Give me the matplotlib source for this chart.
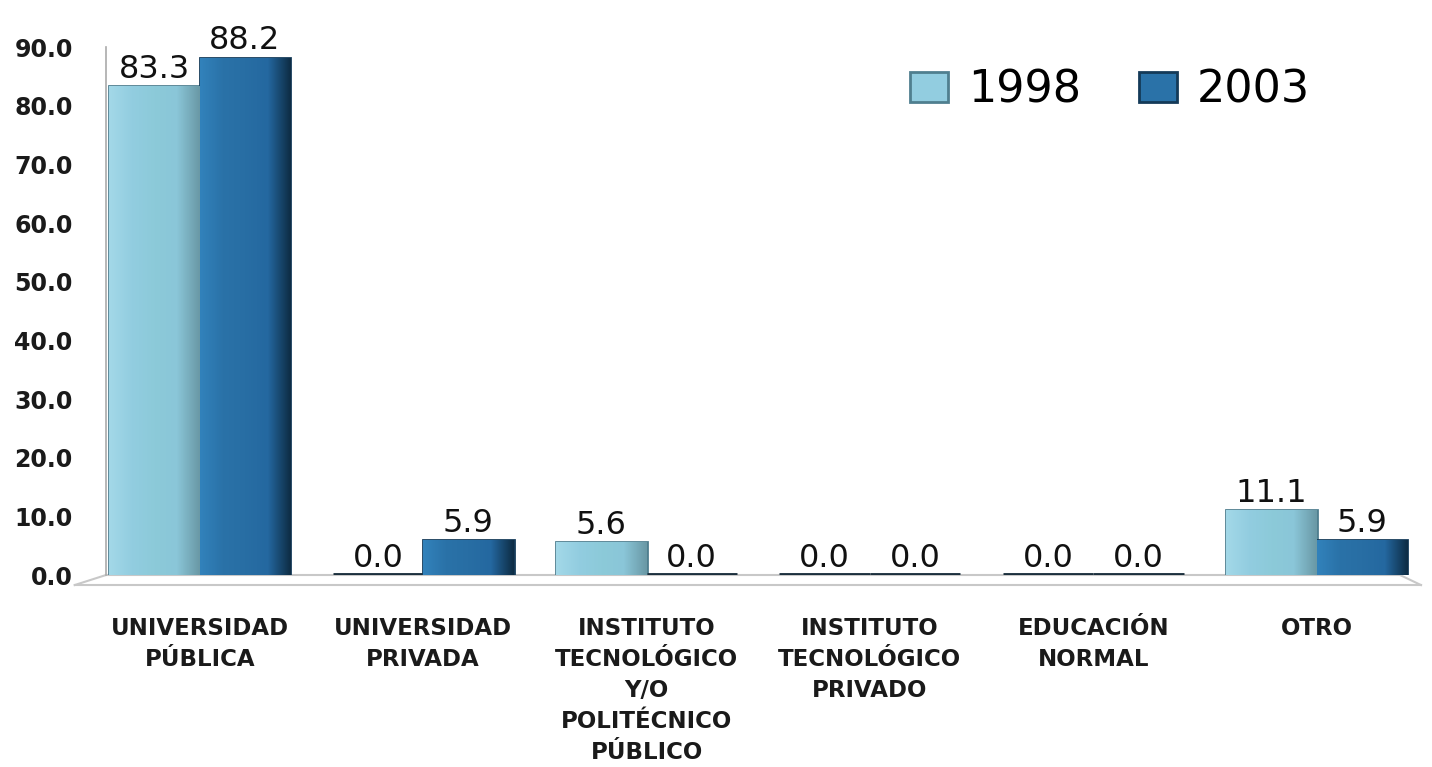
import numpy as np
import matplotlib.pyplot as plt
from matplotlib.lines import Line2D
from matplotlib.colors import LinearSegmentedColormap

# Data
categories = ["UNIVERSIDAD\nPÚBLICA", "UNIVERSIDAD\nPRIVADA",
              "INSTITUTO\nTECNOLÓGICO\nY/O\nPOLITÉCNICO\nPÚBLICO",
              "INSTITUTO\nTECNOLÓGICO\nPRIVADO", "EDUCACIÓN\nNORMAL", "OTRO"]
series_names = ["1998", "2003"]
values_1998 = [83.3, 0.0, 5.6, 0.0, 0.0, 11.1]
values_2003 = [88.2, 5.9, 0.0, 0.0, 0.0, 5.9]

light = "#92cde0"
dark = "#2a72a8"

fig = plt.figure(figsize=(14.32, 7.67), dpi=100)
ax = fig.add_axes([0.074, 0.2503, 0.911, 0.6884])

x = np.arange(len(categories))
w = 0.405
b1 = ax.bar(x - w / 2, values_1998, w, color=light, edgecolor="#4f7f8f", linewidth=2, label=series_names[0])
b2 = ax.bar(x + w / 2, values_2003, w, color=dark, edgecolor="#143a58", linewidth=2, label=series_names[1])

# shading on the bars (lighter left, darker right edge)
cm_light = LinearSegmentedColormap.from_list("l", ["#a3d8e8", "#92cde0", "#8ccad9", "#8ac6d8", "#6a99a6"])
cm_dark = LinearSegmentedColormap.from_list("d", ["#3282bb", "#2a72a8", "#286ea4", "#2468a0", "#0e2d45"])
grad = np.linspace(0, 1, 100).reshape(1, -1)
for bars, cm in [(b1, cm_light), (b2, cm_dark)]:
    for bar in bars:
        h = bar.get_height()
        if h <= 0:
            # empty categories show up as a flat dark slab
            bar.set_edgecolor("#1b2f3d")
            bar.set_linewidth(3.5)
            continue
        x0 = bar.get_x()
        im = ax.imshow(grad, cmap=cm, aspect="auto", extent=[x0, x0 + bar.get_width(), 0, h],
                       zorder=bar.get_zorder() + 0.1)
        im.set_clip_path(bar)

# value labels
for bars, vals in [(b1, values_1998), (b2, values_2003)]:
    for bar, v in zip(bars, vals):
        ax.annotate(f"{v:.1f}", (bar.get_x() + bar.get_width() / 2, v), xytext=(0, 1),
                    textcoords="offset points", ha="center", va="bottom", fontsize=23, color="#111111")

ax.set_xlim(-0.42, 5.42)
ax.set_ylim(0, 90)
ax.set_yticks(np.arange(0, 91, 10))
ax.set_yticklabels([f"{t:.1f}" for t in np.arange(0, 91, 10)], fontsize=17, fontweight="bold", color="#1a1a1a")
ax.set_xticks(x)
ax.set_xticklabels(categories, fontsize=16.5, fontweight="bold", color="#1a1a1a", linespacing=1.45)
ax.tick_params(axis="both", length=0)
ax.tick_params(axis="y", pad=24)
ax.tick_params(axis="x", pad=30)

for s in ["top", "right", "bottom"]:
    ax.spines[s].set_visible(False)
ax.spines["left"].set_color("#aaaaaa")
ax.spines["left"].set_linewidth(1.2)

# floor of the pseudo 3d plot
floor = "#c8c8c8"
ax.add_line(Line2D([0, 0.992], [0, 0], transform=ax.transAxes, color=floor, lw=1.5, clip_on=False, zorder=0))
ax.add_line(Line2D([-0.024, 1.008], [-0.019, -0.019], transform=ax.transAxes, color=floor, lw=1.5, clip_on=False, zorder=0))
ax.add_line(Line2D([-0.024, 0], [-0.019, 0], transform=ax.transAxes, color=floor, lw=1.5, clip_on=False, zorder=0))
ax.add_line(Line2D([0.992, 1.008], [0, -0.019], transform=ax.transAxes, color=floor, lw=1.5, clip_on=False, zorder=0))

leg = fig.legend(handles=[b1, b2], loc="center", bbox_to_anchor=(1110 / 1432, 1 - 90 / 767),
                 ncol=2, frameon=False, fontsize=32, handlelength=0.85, handleheight=0.65,
                 handletextpad=0.45, columnspacing=1.3)

plt.savefig("out.png", dpi=100)
